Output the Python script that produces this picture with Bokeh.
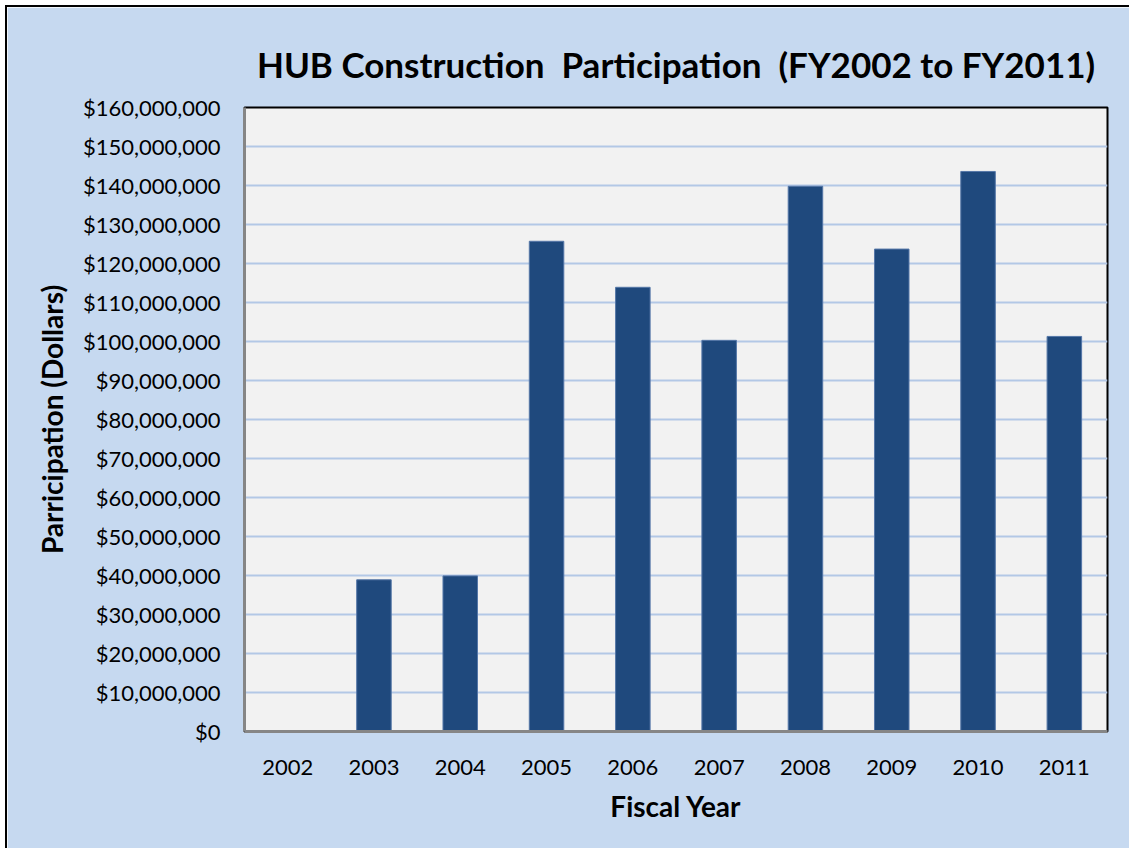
from bokeh.plotting import figure
from bokeh.models import ColumnDataSource, NumeralTickFormatter, FixedTicker
from bokeh.embed import file_html
from bokeh.resources import INLINE

years = ["2002", "2003", "2004", "2005", "2006", "2007", "2008", "2009", "2010", "2011"]
participation = [0, 38_900_000, 39_900_000, 125_700_000, 113_900_000, 100_300_000,
                 139_800_000, 123_700_000, 143_600_000, 101_300_000]
y_ticks = list(range(0, 160_000_001, 10_000_000))

title_text = "HUB Construction\u00a0 Participation\u00a0 (FY2002 to FY2011)"
x_label = "Fiscal Year"
y_label = "Parricipation (Dollars)"

FONT = "Lato"
BG = "#c6d9f0"

src = ColumnDataSource(data=dict(year=years, value=participation))

p = figure(
    x_range=years, y_range=(0, 160_000_000),
    width=1122, height=841,
    output_backend="svg", toolbar_location=None,
    min_border_left=237, min_border_right=22, min_border_top=100, min_border_bottom=117,
)
p.margin = (7, 0, 0, 7)
p.styles = {"outline": "2px solid #000000"}

p.background_fill_color = "#f2f2f2"
p.border_fill_color = BG
p.outline_line_color = "#000000"
p.outline_line_width = 2

p.vbar(x="year", top="value", width=0.4, source=src,
       fill_color="#1f497d", line_color="#5577a8", line_width=1)

p.title.text = title_text
p.title.align = "center"
p.title.text_font = FONT
p.title.text_font_size = "35px"
p.title.text_font_style = "bold"
p.title.text_color = "#000000"
p.title.standoff = 45

p.x_range.range_padding = 0
p.xgrid.grid_line_color = None
p.ygrid.grid_line_color = "#b3c8e6"
p.ygrid.grid_line_width = 2
p.yaxis.ticker = FixedTicker(ticks=y_ticks)
p.yaxis.formatter = NumeralTickFormatter(format="$0,0")

for ax in (p.xaxis[0], p.yaxis[0]):
    ax.axis_line_color = "#868686"
    ax.axis_line_width = 3
    ax.major_tick_line_color = None
    ax.minor_tick_line_color = None
    ax.major_label_text_font = FONT
    ax.major_label_text_font_size = "22px"
    ax.major_label_text_color = "#000000"
    ax.axis_label_text_font = FONT
    ax.axis_label_text_font_size = "28px"
    ax.axis_label_text_font_style = "bold"
    ax.axis_label_text_color = "#000000"

p.xaxis.axis_label = x_label
p.yaxis.axis_label = y_label
p.xaxis.major_label_standoff = 22
p.xaxis.axis_label_standoff = 11
p.yaxis.major_label_standoff = 18
p.yaxis.axis_label_standoff = 11

open("out.html", "w").write(file_html(p, INLINE))
